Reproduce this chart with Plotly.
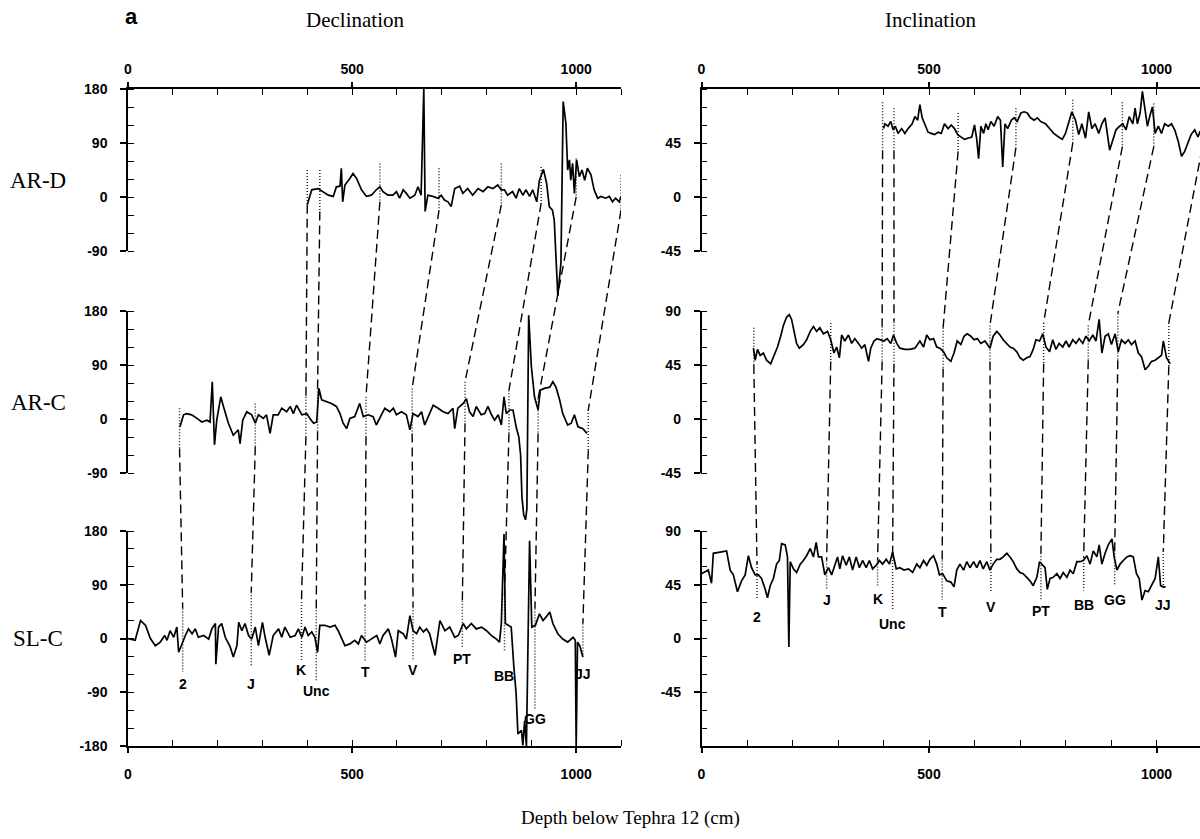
import numpy as np
import plotly.graph_objects as go

# ---------------- data (depth cm, value deg) ----------------
ARD_DEC = [(400,-13),(410,12),(424,14),(436,9),(447,3),(458,1),(465,17),(473,18),(476,48),(479,-8),(484,20),(495,31),(502,39),(510,31),(521,12),(532,1),(543,3),(554,12),(562,17),(569,9),(580,3),(591,3),(599,9),(606,-2),(614,12),(621,6),(629,-2),(640,3),(647,17),(654,3),(660,180),(663,-24),(669,3),(680,1),(692,-2),(699,3),(706,-5),(714,-8),(721,-16),(729,14),(740,18),(747,6),(758,14),(769,3),(781,14),(792,9),(803,17),(814,14),(825,20),(833,12),(840,12),(847,3),(858,9),(866,-2),(873,14),(881,3),(888,12),(896,1),(903,12),(912,-8),(918,28),(927,46),(934,23),(940,-16),(947,-22),(951,-38),(955,-100),(959,-165),(966,-110),(971,159),(977,123),(981,45),(985,62),(988,28),(992,56),(996,6),(1001,62),(1007,34),(1013,45),(1019,28),(1025,48),(1033,37),(1040,12),(1048,-2),(1055,1),(1066,-2),(1074,1),(1081,-8),(1088,-2),(1096,-8),(1100,1)]

ARC_DEC = [(116,-13),(124,7),(131,9),(142,7),(154,1),(165,-5),(176,-2),(183,-5),(188,62),(193,-43),(198,-2),(207,37),(213,21),(224,-7),(235,-27),(246,-18),(250,-41),(256,-2),(265,12),(276,7),(284,-7),(291,7),(302,1),(309,7),(317,-24),(324,7),(335,7),(343,18),(354,12),(362,21),(369,9),(376,23),(388,7),(399,9),(406,1),(414,-7),(421,-5),(426,51),(432,32),(443,29),(454,26),(465,21),(473,9),(480,-7),(488,-16),(495,1),(506,4),(517,26),(525,4),(536,7),(547,4),(554,-10),(566,9),(573,18),(584,12),(592,18),(599,7),(610,12),(621,7),(629,-18),(636,9),(647,4),(655,12),(662,-10),(670,4),(681,23),(692,18),(703,12),(714,9),(725,18),(729,-16),(736,18),(748,26),(755,34),(762,12),(770,4),(777,21),(788,7),(796,9),(803,21),(811,7),(818,-2),(826,7),(833,-10),(839,37),(844,9),(852,15),(859,15),(866,-13),(872,-30),(876,-60),(879,-130),(883,-160),(887,-168),(890,-150),(894,173),(900,87),(907,37),(915,15),(920,48),(929,51),(941,53),(948,62),(955,53),(963,32),(970,9),(981,-10),(989,-7),(996,7),(1004,-13),(1015,-16),(1024,-24)]

SLC_DEC = [(0,0),(16,-3),(28,30),(39,22),(50,0),(61,-12),(72,-6),(82,5),(87,-3),(94,13),(102,2),(109,19),(113,-23),(120,-9),(128,5),(135,16),(143,8),(150,16),(157,2),(169,5),(180,-1),(187,16),(195,25),(196,-43),(202,19),(209,25),(217,2),(228,-14),(235,-31),(243,-12),(247,27),(254,13),(261,25),(269,5),(276,-1),(284,19),(291,-12),(300,27),(306,2),(315,-28),(324,5),(336,16),(343,2),(350,19),(362,2),(373,5),(380,16),(388,2),(395,19),(402,5),(410,11),(417,2),(423,-23),(428,22),(439,22),(451,19),(462,22),(469,13),(477,-1),(484,-12),(495,-9),(506,-3),(514,-9),(521,5),(532,-6),(543,-1),(555,5),(562,-9),(569,5),(581,16),(588,-1),(597,-31),(603,13),(614,8),(621,-1),(629,38),(636,13),(644,8),(651,19),(659,11),(666,16),(673,8),(685,-28),(696,30),(707,13),(718,19),(729,2),(737,5),(748,25),(755,16),(766,25),(777,16),(789,19),(800,13),(811,5),(822,-1),(829,-6),(833,25),(839,174),(842,25),(848,22),(855,19),(861,-48),(866,-92),(870,-159),(878,-153),(881,-178),(885,-137),(889,-180),(896,163),(901,19),(909,22),(918,41),(926,30),(933,36),(941,44),(948,25),(959,8),(970,-1),(981,-6),(993,2),(998,-3),(1000,-180),(1003,-6),(1008,-12),(1015,-31)]

ARD_INC = [(400,57),(403,61),(410,59),(416,63),(421,56),(426,59),(432,53),(440,57),(447,53),(454,57),(463,61),(469,67),(475,64),(480,77),(485,66),(491,60),(498,54),(505,53),(512,52),(520,54),(527,53),(534,61),(542,57),(549,60),(556,57),(563,52),(571,50),(578,48),(585,49),(594,50),(600,60),(605,48),(609,32),(614,59),(620,53),(625,61),(630,56),(636,63),(643,59),(651,67),(657,64),(662,25),(667,61),(673,57),(681,64),(687,66),(694,63),(702,70),(709,71),(716,70),(723,66),(731,64),(738,66),(745,63),(756,61),(764,57),(774,53),(785,50),(793,48),(800,53),(807,61),(814,71),(822,64),(829,52),(836,61),(844,49),(851,71),(858,57),(865,61),(873,53),(880,61),(887,66),(897,39),(904,48),(911,56),(919,59),(926,61),(933,56),(940,67),(948,61),(953,74),(958,61),(964,70),(969,88),(975,73),(980,59),(985,67),(991,75),(997,53),(1004,59),(1011,53),(1018,61),(1026,59),(1033,61),(1040,56),(1048,46),(1055,34),(1062,38),(1069,45),(1076,52),(1084,56),(1091,50),(1096,55)]

ARC_INC = [(114,59),(118,49),(123,58),(129,53),(136,55),(143,49),(152,46),(159,52),(167,60),(174,69),(180,78),(187,85),(193,87),(198,83),(203,73),(209,63),(215,59),(224,62),(231,66),(239,73),(246,77),(253,73),(260,76),(268,71),(277,73),(284,66),(291,55),(297,60),(303,51),(308,70),(315,65),(323,70),(330,63),(337,67),(345,63),(352,59),(359,62),(367,48),(372,59),(379,65),(386,67),(394,66),(401,65),(408,67),(416,63),(422,70),(429,63),(436,59),(447,58),(458,58),(469,59),(480,65),(488,60),(495,70),(502,66),(510,67),(517,60),(524,59),(532,56),(539,51),(548,48),(555,55),(562,65),(570,62),(577,69),(584,71),(592,69),(599,66),(606,67),(614,63),(623,65),(634,59),(641,69),(649,73),(656,70),(663,66),(671,63),(678,60),(685,59),(693,56),(700,51),(707,49),(715,51),(722,52),(729,58),(735,66),(743,65),(750,71),(757,60),(765,56),(772,66),(779,58),(786,63),(794,60),(801,65),(808,60),(816,66),(823,63),(830,67),(838,63),(845,69),(852,65),(860,70),(867,65),(874,83),(880,55),(887,69),(894,71),(901,62),(909,71),(916,56),(923,66),(931,63),(938,66),(945,62),(953,65),(960,55),(967,52),(975,41),(982,44),(989,48),(997,49),(1004,51),(1011,53),(1015,65),(1022,51),(1030,46)]

SLC_INC = [(0,54),(15,57),(22,46),(26,71),(41,72),(55,73),(63,57),(70,53),(79,39),(88,48),(96,53),(103,69),(110,59),(118,53),(125,53),(132,50),(140,41),(145,34),(151,44),(158,50),(165,62),(171,65),(176,79),(184,78),(189,68),(192,-7),(195,64),(202,58),(209,55),(217,62),(224,65),(231,69),(239,75),(246,68),(252,80),(257,68),(264,68),(271,53),(279,59),(286,53),(293,61),(299,68),(304,58),(310,69),(318,61),(325,68),(332,57),(340,68),(347,59),(354,65),(362,59),(369,65),(376,58),(384,61),(391,65),(398,62),(406,66),(413,62),(420,72),(428,58),(436,59),(445,57),(455,58),(464,55),(473,62),(480,59),(488,65),(495,61),(502,66),(510,69),(517,62),(523,53),(530,54),(539,48),(548,47),(555,43),(561,57),(568,62),(576,57),(583,64),(590,59),(598,64),(605,59),(612,65),(619,58),(627,64),(634,57),(641,62),(649,66),(656,66),(663,68),(671,71),(678,68),(685,64),(693,58),(700,55),(707,54),(715,51),(722,48),(729,44),(737,51),(743,64),(748,62),(755,59),(760,41),(766,50),(773,51),(781,54),(788,50),(795,55),(803,51),(810,57),(817,54),(825,64),(832,64),(839,65),(847,69),(854,62),(861,73),(869,68),(874,78),(880,62),(887,71),(894,78),(902,83),(907,68),(913,57),(920,62),(927,65),(935,68),(942,69),(949,68),(956,54),(962,50),(968,32),(975,40),(982,39),(989,44),(997,50),(1004,68),(1009,44),(1015,43),(1020,43)]

# tie points (depth) and their labels
TIE_LABELS = ['2', 'J', 'K', 'Unc', 'T', 'V', 'PT', 'BB', 'GG', 'JJ']
SLC_TIES = [122, 275, 387, 420, 529, 636, 746, 840, 908, 1015]
ARC_TIES = [115, 284, 397, 423, 531, 634, 752, 850, 915, 1027]
ARD_TIES_DEC = [400, 428, 562, 694, 833, 922, 1000, 1100]   # K .. JJ
ARD_TIES_INC = [398, 423, 564, 691, 816, 925, 994, 1100]    # K .. JJ

# extent of the dotted tie marks (deg)
ARD_DEC_TOP = [45, 45, 56, 48, 56, 50, 64, 37]
ARD_DEC_BOT = [-13, -24, -8, -22, -13, -10, 0, -22]
ARC_DEC_TOP = [18, 26, 37, 51, 37, 51, 62, 48, 34, 15]
ARC_DEC_BOT = [-49, -46, -29, -21, -29, -24, -7, -24, -24, -52]
SLC_DEC_TOP = [50, 77, 61, 47, 55, 52, 63, 72, 50, 25]
SLC_DEC_BOT = [-56, -45, -37, -70, -40, -37, -14, -20, -117, -31]
SLC_DEC_LABEL = [-76, -76, -53, -87, -56, -53, -34, -62, -134, -59]

ARD_INC_TOP = [79, 74, 70, 74, 81, 79, 78, 75]
ARD_INC_BOT = [39, 39, 38, 41, 45, 42, 42, 40]
ARC_INC_TOP = [76, 80, 77, 81, 76, 78, 80, 78, 88, 80]
ARC_INC_BOT = [45, 48, 48, 46, 42, 48, 46, 49, 49, 44]
SLC_INC_TOP = [62, 65, 65, 68, 65, 68, 71, 68, 71, 73]
SLC_INC_BOT = [32, 41, 43, 23, 32, 39, 32, 40, 44, 41]
SLC_INC_LABEL = [18, 32, 33, 12, 22, 26, 23, 28, 32, 28]

ROW_NAMES = ['AR-D', 'AR-C', 'SL-C']
DEC_TICKS = [[-90, 0, 90, 180], [-90, 0, 90, 180], [-180, -90, 0, 90, 180]]
INC_TICKS = [[-45, 0, 45], [-45, 0, 45, 90], [-45, 0, 45, 90]]

# ---------------- layout geometry (pixels) ----------------
W, H = 1200, 839
ROW_PX = [(89, 251), (311, 473), (531, 746)]
DEC_RANGES = [(-90, 180), (-90, 180), (-180, 180)]
INC_RANGES = [(-45, 90), (-45, 90), (-90, 90)]
DEC_XPX = (128, 621)
INC_XPX = (701.5, 1200)
DEC_XMAX = 1100
INC_XMAX = (INC_XPX[1] - INC_XPX[0]) / 0.455

def pp(p):
    return 1 - p / H

def offsets(ranges):
    top_px, bot_px = ROW_PX[0][0], ROW_PX[-1][1]
    r0, r1 = ranges[0]
    ppu = (ROW_PX[0][1] - ROW_PX[0][0]) / (r1 - r0)
    gtop = r1
    gbot = gtop - (bot_px - top_px) / ppu
    offs = []
    for (t, b), (a0, a1) in zip(ROW_PX, ranges):
        zero_px = t + (a1 - 0) / (a1 - a0) * (b - t)
        offs.append(gtop - (zero_px - top_px) / ppu)
    return offs, (gbot, gtop)

FONT_TICK = dict(family="Liberation Sans, Arial", size=14, color="black", weight="bold")
SERIF = "Liberation Serif, Times New Roman, serif"

fig = go.Figure()
layout = dict(width=W, height=H, margin=dict(l=0, r=0, t=0, b=0, pad=0, autoexpand=False),
              autosize=False,
              paper_bgcolor="white", plot_bgcolor="rgba(0,0,0,0)",
              showlegend=False, annotations=[])

def build_panel(kind):
    if kind == 'dec':
        xb, xt, yg, ys = 'x', 'x2', 'y', ['y2', 'y3', 'y4']
        xpx, xmax, ranges, ticks, minor_step = DEC_XPX, DEC_XMAX, DEC_RANGES, DEC_TICKS, 30
        series = [ARD_DEC, ARC_DEC, SLC_DEC]
        ties = [ARD_TIES_DEC, ARC_TIES, SLC_TIES]
        tops = [ARD_DEC_TOP, ARC_DEC_TOP, SLC_DEC_TOP]
        bots = [ARD_DEC_BOT, ARC_DEC_BOT, SLC_DEC_BOT]
        labels_y = SLC_DEC_LABEL
    else:
        xb, xt, yg, ys = 'x3', 'x4', 'y5', ['y6', 'y7', 'y8']
        xpx, xmax, ranges, ticks, minor_step = INC_XPX, INC_XMAX, INC_RANGES, INC_TICKS, 15
        series = [ARD_INC, ARC_INC, SLC_INC]
        ties = [ARD_TIES_INC, ARC_TIES, SLC_TIES]
        tops = [ARD_INC_TOP, ARC_INC_TOP, SLC_INC_TOP]
        bots = [ARD_INC_BOT, ARC_INC_BOT, SLC_INC_BOT]
        labels_y = SLC_INC_LABEL
    offs, grange = offsets(ranges)

    def akey(a):
        return a[0] + 'axis' + a[1:]

    xdom = [xpx[0] / W, min(1.0, xpx[1] / W)]
    xcommon = dict(range=[0, xmax], showline=True, linecolor="black", linewidth=1.5,
                   ticks="outside", ticklen=5, tickwidth=1.5, tickcolor="black",
                   tickvals=[0, 500, 1000], ticktext=['0', '500', '1000'],
                   minor=dict(tickvals=list(range(100, 1101, 100)), ticks="inside",
                              ticklen=6, tickwidth=1.3, tickcolor="black"),
                   tickfont=FONT_TICK, showgrid=False, zeroline=False,
                   automargin=False, fixedrange=True)
    layout[akey(xb)] = dict(domain=xdom, anchor=ys[2], side='bottom', ticklabelstandoff=9, **xcommon)
    layout[akey(xt)] = dict(overlaying=xb, anchor=ys[0], side='top', ticklabelstandoff=3, **xcommon)
    layout[akey(yg)] = dict(domain=[pp(ROW_PX[-1][1]), pp(ROW_PX[0][0])], range=list(grange),
                            anchor=xb, visible=False, fixedrange=True, automargin=False)
    for k, (yid, (t, b), rg, tv) in enumerate(zip(ys, ROW_PX, ranges, ticks)):
        mv = [v for v in range(int(rg[0]), int(rg[1]) + 1, minor_step)]
        layout[akey(yid)] = dict(domain=[pp(b), pp(t)], range=list(rg), anchor=xb,
                                 showline=True, linecolor="black", linewidth=1.5,
                                 ticks="outside", ticklen=6, tickwidth=1.5, tickcolor="black",
                                 tickvals=tv, ticktext=[str(v) for v in tv],
                                 minor=dict(tickvals=mv, ticks="inside", ticklen=6,
                                            tickwidth=1.3, tickcolor="black"),
                                 tickfont=FONT_TICK, ticklabelstandoff=10,
                                 showgrid=False, zeroline=False, fixedrange=True,
                                 automargin=False)
        fig.add_trace(go.Scatter(x=[None], y=[None], xaxis=xb, yaxis=yid, hoverinfo='skip'))
    fig.add_trace(go.Scatter(x=[None], y=[None], xaxis=xt, yaxis=ys[0], hoverinfo='skip'))

    # dashed correlation lines
    cx, cy = [], []
    nD = len(ties[0])
    for j in range(nD):
        i = j + 2
        cx += [ties[0][j], ties[1][i], None]
        cy += [bots[0][j] + offs[0], tops[1][i] + offs[1], None]
    for i in range(len(ties[1])):
        cx += [ties[1][i], ties[2][i], None]
        cy += [bots[1][i] + offs[1], tops[2][i] + offs[2], None]
    fig.add_trace(go.Scatter(x=cx, y=cy, mode='lines', xaxis=xb, yaxis=yg,
                             line=dict(color='black', width=1.4, dash='9px,5px'), hoverinfo='skip'))
    # dotted tie marks
    mx, my = [], []
    for r in range(3):
        for j, d in enumerate(ties[r]):
            mx += [d, d, None]
            my += [tops[r][j] + offs[r], bots[r][j] + offs[r], None]
    fig.add_trace(go.Scatter(x=mx, y=my, mode='lines', xaxis=xb, yaxis=yg,
                             line=dict(color='#222222', width=1.5, dash='1px,2px'), hoverinfo='skip'))
    # records
    for r, s in enumerate(series):
        arr = np.array(s, dtype=float)
        fig.add_trace(go.Scatter(x=arr[:, 0], y=arr[:, 1] + offs[r], mode='lines',
                                 xaxis=xb, yaxis=yg, line=dict(color='black', width=1.7),
                                 hoverinfo='skip'))
    # tie labels under SL-C
    for j, lab in enumerate(TIE_LABELS):
        layout['annotations'].append(dict(x=ties[2][j], y=labels_y[j] + offs[2], xref=xb, yref=yg,
                                          text=lab, showarrow=False, yanchor='middle',
                                          font=dict(family="Liberation Sans, Arial", size=14,
                                                    color='black', weight='bold')))

build_panel('dec')
build_panel('inc')

# titles & row labels
def ann(text, x, y, size, family=SERIF, weight='normal'):
    layout['annotations'].append(dict(x=x / W, y=pp(y), xref='paper', yref='paper', text=text,
                                      showarrow=False, xanchor='center', yanchor='middle',
                                      font=dict(family=family, size=size, color='black', weight=weight)))

ann('a', 131, 17, 22, family="Liberation Sans, Arial", weight='bold')
ann('Declination', 355, 20, 21)
ann('Inclination', 930, 20, 21)
for name, y in zip(ROW_NAMES, [180, 402, 638]):
    ann(name, 38, y, 23)
ann('Depth below Tephra 12 (cm)', 630, 818, 19)

fig.update_layout(**layout)
fig.write_html("out.html")
